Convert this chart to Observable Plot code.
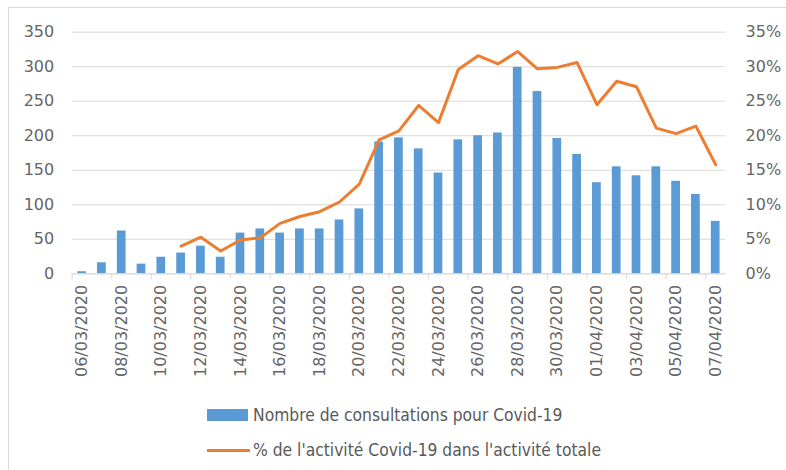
<!DOCTYPE html>
<html>
<head>
<meta charset="utf-8">
<script src="https://cdn.jsdelivr.net/npm/d3@7"></script>
<script src="https://cdn.jsdelivr.net/npm/@observablehq/plot@0.6"></script>
<style>
  html, body { margin: 0; padding: 0; background: #fff; }
  #wrap { position: relative; width: 786px; height: 470px; overflow: hidden; font-family: "DejaVu Sans", sans-serif; }
  #frame { position: absolute; left: 8px; top: 7px; right: -2px; bottom: -2px; border-left: 1px solid #d9d9d9; border-top: 1px solid #d9d9d9; pointer-events: none; }
  #chart { position: absolute; left: 0; top: 0; }
  .legend { position: absolute; left: 0; width: 786px; font-family: "Liberation Sans Narrow", "DejaVu Sans Condensed", sans-serif; font-size: 17.3px; color: #595959; }
  .item { position: absolute; left: 207px; display: flex; align-items: center; white-space: nowrap; }
  .sw-bar { width: 41px; height: 12px; background: #5B9BD5; margin-right: 5px; }
  .sw-line { width: 43px; height: 3px; background: #ED7D31; margin-right: 3px; }
</style>
</head>
<body>
<div id="wrap">
  <div id="chart"></div>
  <div class="legend">
    <div class="item" style="top:405px"><div class="sw-bar"></div><span id="l1"></span></div>
    <div class="item" style="top:440px"><div class="sw-line"></div><span id="l2"></span></div>
  </div>
  <div id="frame"></div>
</div>
<script>
const dates = ["06/03/2020","07/03/2020","08/03/2020","09/03/2020","10/03/2020","11/03/2020","12/03/2020","13/03/2020","14/03/2020","15/03/2020","16/03/2020","17/03/2020","18/03/2020","19/03/2020","20/03/2020","21/03/2020","22/03/2020","23/03/2020","24/03/2020","25/03/2020","26/03/2020","27/03/2020","28/03/2020","29/03/2020","30/03/2020","31/03/2020","01/04/2020","02/04/2020","03/04/2020","04/04/2020","05/04/2020","06/04/2020","07/04/2020"];
const consultations = [3,16,62,14,24,30,40,24,59,65,59,65,65,78,94,191,197,181,146,194,200,204,299,264,196,173,132,155,142,155,134,115,76];
const pctActivite = [null,null,null,null,null,4.0,5.3,3.3,4.9,5.2,7.3,8.3,9.0,10.4,13.0,19.4,20.7,24.4,21.9,29.6,31.6,30.4,32.2,29.7,29.9,30.6,24.5,27.9,27.1,21.1,20.3,21.4,15.8];
const leftTicks = [0,50,100,150,200,250,300,350];
const rightTicks = [0,5,10,15,20,25,30,35];
const seriesNames = ["Nombre de consultations pour Covid-19", "% de l'activité Covid-19 dans l'activité totale"];

const data = dates.map((d, i) => ({date: d, count: consultations[i], pct: pctActivite[i]}));
const lineData = data.filter(d => d.pct != null);
const labelDates = dates.filter((d, i) => i % 2 === 0);

const W = 786, H = 392;
const mL = 71.7, mR = 60.9, mT = 31.7, mB = H - 273.3;
const step = (W - mL - mR) / dates.length;

const chart = Plot.plot({
  width: W,
  height: H,
  marginLeft: mL,
  marginRight: mR,
  marginTop: mT,
  marginBottom: mB,
  style: {fontFamily: "DejaVu Sans, sans-serif", fontSize: "16px", color: "#666", background: "transparent"},
  x: {type: "band", domain: dates, paddingInner: 0.56, paddingOuter: 0.28, align: 0.5, round: false},
  y: {domain: [0, 350]},
  marks: [
    Plot.gridY(leftTicks, {stroke: "#d9d9d9", strokeOpacity: 1, strokeWidth: 1}),
    Plot.barY(data, {x: "date", y: "count", fill: "#5B9BD5"}),
    Plot.ruleY([0], {stroke: "#d9d9d9", strokeWidth: 1}),
    Plot.axisX(labelDates, {tickSize: 6, tickFormat: () => "", stroke: "#d9d9d9", dx: -step / 2, label: null}),
    Plot.axisX(labelDates, {tickSize: 0, tickPadding: 11, tickRotate: -90, label: null, fill: "#666", fontSize: 16}),
    Plot.axisY(leftTicks, {anchor: "left", tickSize: 0, tickPadding: 18, label: null, fill: "#666", fontSize: 16}),
    Plot.axisY(rightTicks.map(t => t * 10), {anchor: "right", tickSize: 0, tickPadding: 20, label: null, tickFormat: d => (d / 10) + "%", fill: "#666", fontSize: 16, textAnchor: "start"}),
    Plot.line(lineData, {x: "date", y: d => d.pct * 10, stroke: "#ED7D31", strokeWidth: 3, strokeLinejoin: "round", strokeLinecap: "round"})
  ]
});
document.getElementById("chart").appendChild(chart);
document.getElementById("l1").textContent = seriesNames[0];
document.getElementById("l2").textContent = seriesNames[1];
</script>
</body>
</html>
